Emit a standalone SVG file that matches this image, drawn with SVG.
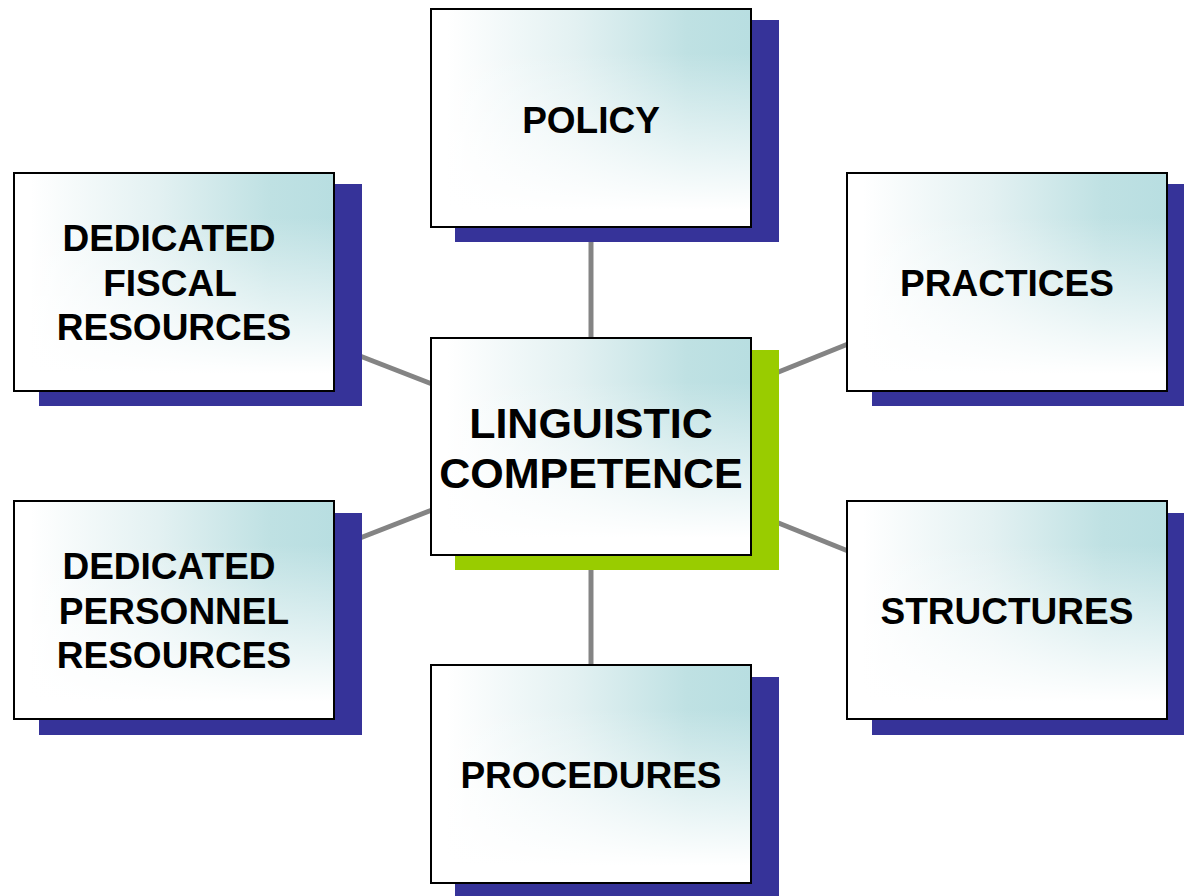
<svg xmlns="http://www.w3.org/2000/svg" width="1184" height="896" viewBox="0 0 1184 896">
<defs>
<linearGradient id="hz" x1="0" y1="0" x2="1" y2="0">
<stop offset="0.05" stop-color="#ffffff"/>
<stop offset="0.45" stop-color="#e3f1f2"/>
<stop offset="0.8" stop-color="#bfe1e3"/>
<stop offset="1" stop-color="#b8dee1"/>
</linearGradient>
<linearGradient id="vt" x1="0" y1="0" x2="0" y2="1">
<stop offset="0.2" stop-color="#ffffff" stop-opacity="0"/>
<stop offset="0.6" stop-color="#ffffff" stop-opacity="0.55"/>
<stop offset="0.92" stop-color="#ffffff" stop-opacity="1"/>
</linearGradient>
<style>
.bg{fill:url(#hz)}
.ov{fill:url(#vt)}
.bd{fill:none;stroke:#000;stroke-width:2}
.sh{fill:#363399}
.shg{fill:#99cc00}
.lbl{font-family:"Liberation Sans",Arial,sans-serif;font-weight:bold;font-size:37px;fill:#000;text-anchor:middle}
.big{font-size:43px}
.conn line{stroke:#848484;stroke-width:5}
</style>
</defs>
<rect width="1184" height="896" fill="#fff"/>
<g class="conn" id="connectors">
<line x1="591" y1="240" x2="591" y2="338"/>
<line x1="591" y1="556" x2="591" y2="665"/>
<line x1="360" y1="356" x2="432" y2="384"/>
<line x1="360" y1="538" x2="432" y2="510"/>
<line x1="776" y1="373" x2="848" y2="344"/>
<line x1="776" y1="522" x2="848" y2="551"/>
</g>
<g id="policy">
<rect class="sh" x="455" y="20" width="324" height="222"/>
<rect class="bg" x="431" y="9" width="320" height="218"/>
<rect class="ov" x="431" y="9" width="320" height="218"/>
<rect class="bd" x="431" y="9" width="320" height="218"/>
<text class="lbl" x="591" y="133">POLICY</text>
</g>
<g id="fiscal">
<rect class="sh" x="39" y="184" width="323" height="222"/>
<rect class="bg" x="14" y="173" width="320" height="218"/>
<rect class="ov" x="14" y="173" width="320" height="218"/>
<rect class="bd" x="14" y="173" width="320" height="218"/>
<text class="lbl" x="169" y="251">DEDICATED</text>
<text class="lbl" x="170" y="296">FISCAL</text>
<text class="lbl" x="174" y="340">RESOURCES</text>
</g>
<g id="practices">
<rect class="sh" x="872" y="184" width="324" height="222"/>
<rect class="bg" x="847" y="173" width="320" height="218"/>
<rect class="ov" x="847" y="173" width="320" height="218"/>
<rect class="bd" x="847" y="173" width="320" height="218"/>
<text class="lbl" x="1007" y="296">PRACTICES</text>
</g>
<g id="center">
<rect class="shg" x="455" y="350" width="324" height="220"/>
<rect class="bg" x="431" y="338" width="320" height="217"/>
<rect class="ov" x="431" y="338" width="320" height="217"/>
<rect class="bd" x="431" y="338" width="320" height="217"/>
<text class="lbl big" x="591" y="438">LINGUISTIC</text>
<text class="lbl big" x="591" y="488">COMPETENCE</text>
</g>
<g id="personnel">
<rect class="sh" x="39" y="513" width="323" height="222"/>
<rect class="bg" x="14" y="501" width="320" height="218"/>
<rect class="ov" x="14" y="501" width="320" height="218"/>
<rect class="bd" x="14" y="501" width="320" height="218"/>
<text class="lbl" x="169" y="579">DEDICATED</text>
<text class="lbl" x="174" y="624">PERSONNEL</text>
<text class="lbl" x="174" y="668">RESOURCES</text>
</g>
<g id="structures">
<rect class="sh" x="872" y="513" width="324" height="222"/>
<rect class="bg" x="847" y="501" width="320" height="218"/>
<rect class="ov" x="847" y="501" width="320" height="218"/>
<rect class="bd" x="847" y="501" width="320" height="218"/>
<text class="lbl" x="1007" y="624">STRUCTURES</text>
</g>
<g id="procedures">
<rect class="sh" x="455" y="677" width="324" height="222"/>
<rect class="bg" x="431" y="665" width="320" height="218"/>
<rect class="ov" x="431" y="665" width="320" height="218"/>
<rect class="bd" x="431" y="665" width="320" height="218"/>
<text class="lbl" x="591" y="788">PROCEDURES</text>
</g>
</svg>
